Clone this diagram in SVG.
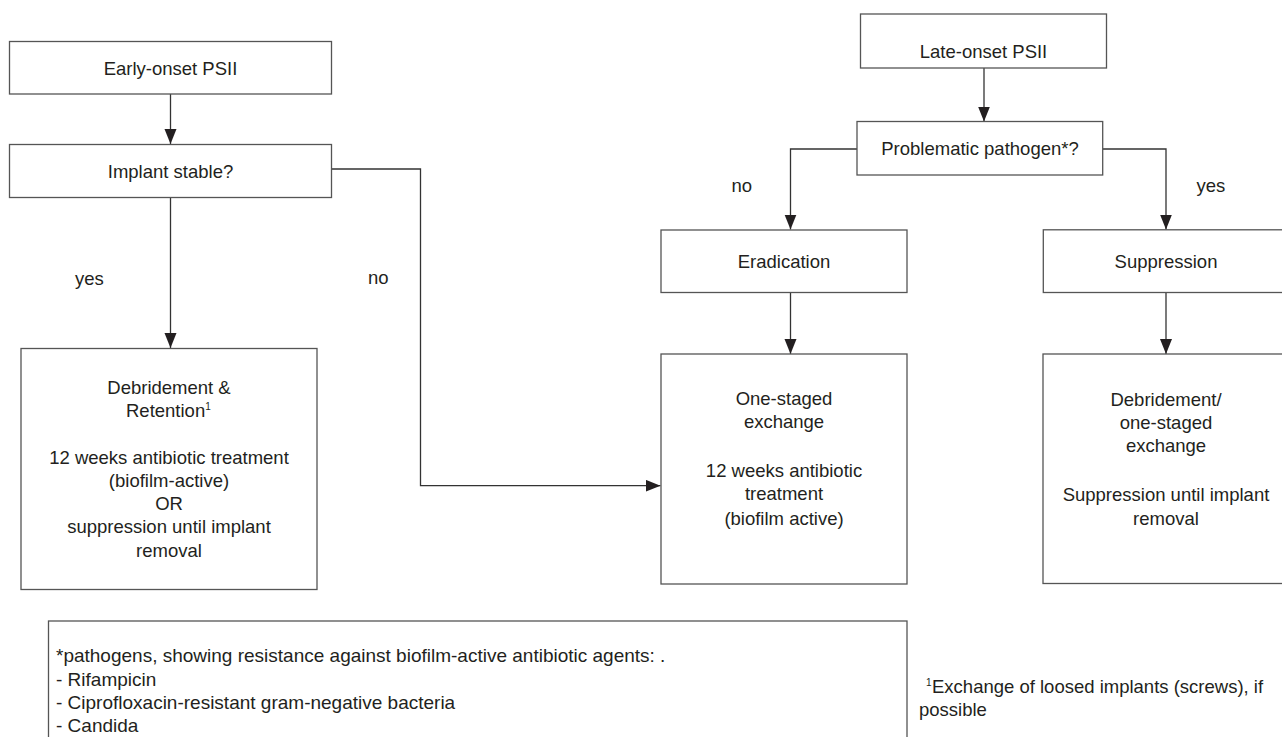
<svg xmlns="http://www.w3.org/2000/svg" width="1282" height="737" viewBox="0 0 1282 737">
<defs>
<marker id="arr" markerUnits="userSpaceOnUse" markerWidth="16" markerHeight="13" refX="15" refY="6" orient="auto">
<path d="M0,0 L15,6 L0,12 z" fill="#231f20"/>
</marker>
<style>
.box{fill:#fff;stroke:#555;stroke-width:1.3}
.t{font-family:"Liberation Sans",Arial,sans-serif;font-size:18.5px;fill:#231f20;text-anchor:middle}
.l{font-family:"Liberation Sans",Arial,sans-serif;font-size:18.5px;fill:#231f20}
.f{font-family:"Liberation Sans",Arial,sans-serif;font-size:19px;fill:#231f20}
.sup{font-size:10px}
.c{fill:none;stroke:#333;stroke-width:1.3}
</style>
</defs>
<rect width="1282" height="737" fill="#fff"/>

<g id="connectors">
<path class="c" d="M170.5,94 V144" marker-end="url(#arr)"/>
<path class="c" d="M170.5,197.7 V348" marker-end="url(#arr)"/>
<path class="c" d="M331.5,169 H420.5 V485.7 H660.5" marker-end="url(#arr)"/>
<path class="c" d="M984,68 V121.5" marker-end="url(#arr)"/>
<path class="c" d="M857,149 H790.5 V229.5" marker-end="url(#arr)"/>
<path class="c" d="M1102.7,149 H1166 V229.5" marker-end="url(#arr)"/>
<path class="c" d="M790.5,292.5 V354" marker-end="url(#arr)"/>
<path class="c" d="M1166,292.5 V354" marker-end="url(#arr)"/>
<text class="l" x="75" y="285">yes</text>
<text class="l" x="368" y="284">no</text>
<text class="l" x="731.5" y="192">no</text>
<text class="l" x="1196.5" y="192">yes</text>
</g>

<g id="early">
<rect class="box" x="9.5" y="41.5" width="322" height="52.5"/>
<text class="t" x="170.5" y="74.5">Early-onset PSII</text>
</g>
<g id="implant">
<rect class="box" x="9.5" y="144.5" width="322" height="53"/>
<text class="t" x="170.5" y="177.5">Implant stable?</text>
</g>
<g id="debridement">
<rect class="box" x="21" y="348.5" width="296" height="241"/>
<text class="t" x="169" y="393.5">Debridement &amp;</text>
<text class="l" x="126" y="416.5">Retention<tspan class="sup" dy="-7">1</tspan></text>
<text class="t" x="169" y="463.5">12 weeks antibiotic treatment</text>
<text class="t" x="169" y="486.5">(biofilm-active)</text>
<text class="t" x="169" y="509.5">OR</text>
<text class="t" x="169" y="533">suppression until implant</text>
<text class="t" x="169" y="556.5">removal</text>
</g>

<g id="late">
<rect class="box" x="860.5" y="14" width="246" height="54"/>
<text class="t" x="983.5" y="58">Late-onset PSII</text>
</g>
<g id="problematic">
<rect class="box" x="857" y="121.5" width="245.7" height="53.5"/>
<text class="t" x="980" y="155">Problematic pathogen*?</text>
</g>
<g id="eradication">
<rect class="box" x="661" y="230" width="246" height="62.5"/>
<text class="t" x="784" y="268">Eradication</text>
</g>
<g id="suppression">
<rect class="box" x="1043.3" y="229.8" width="260" height="62.7"/>
<text class="t" x="1166" y="268">Suppression</text>
</g>
<g id="onestaged">
<rect class="box" x="661" y="354" width="246" height="230"/>
<text class="t" x="784" y="405">One-staged</text>
<text class="t" x="784" y="428.3">exchange</text>
<text class="t" x="784" y="476.5">12 weeks antibiotic</text>
<text class="t" x="784" y="500">treatment</text>
<text class="t" x="784" y="524.5">(biofilm active)</text>
</g>
<g id="suppression-treatment">
<rect class="box" x="1043" y="354" width="260" height="229.5"/>
<text class="t" x="1166" y="405.5">Debridement/</text>
<text class="t" x="1166" y="428.5">one-staged</text>
<text class="t" x="1166" y="452">exchange</text>
<text class="t" x="1166" y="501">Suppression until implant</text>
<text class="t" x="1166" y="524.5">removal</text>
</g>

<g id="footnote-pathogens">
<rect class="box" x="48.5" y="621" width="858.5" height="140"/>
<text class="f" x="56" y="662">*pathogens, showing resistance against biofilm-active antibiotic agents: .</text>
<text class="f" x="56" y="686">- Rifampicin</text>
<text class="f" x="56" y="709">- Ciprofloxacin-resistant gram-negative bacteria</text>
<text class="f" x="56" y="732">- Candida</text>
</g>
<g id="footnote-1">
<text class="l" x="926" y="693"><tspan class="sup" dy="-7">1</tspan><tspan x="932" dy="7">Exchange of loosed implants (screws), if</tspan></text>
<text class="l" x="919" y="716">possible</text>
</g>
</svg>
